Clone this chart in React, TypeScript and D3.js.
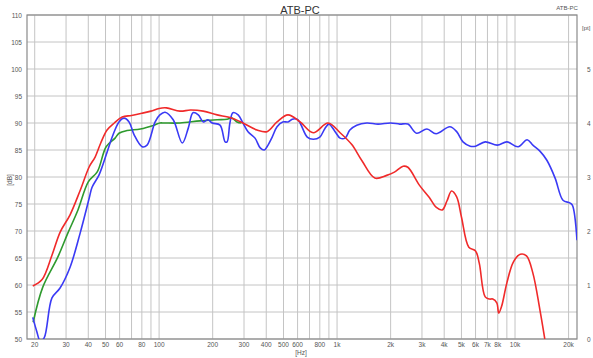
import React from "react";
import * as d3 from "d3";

const redFreq = [19.5, 22, 25, 27.8, 31.6, 36, 40.5, 43.7, 47, 51, 56, 62, 70, 80, 90, 100, 110, 131, 150, 177, 212, 250, 296, 355, 404, 460, 530, 620, 735, 890, 1040, 1210, 1380, 1630, 1900, 2100, 2350, 2500, 2900, 3300, 3600, 3900, 4150, 4400, 4700, 5000, 5500, 6000, 6300, 6800, 7200, 7500, 7900, 8100, 8400, 9000, 9800, 10700, 11600, 12600, 13800, 14700];
const redDb = [59.8, 61, 65.5, 69.8, 73, 77.5, 81.9, 83.7, 86.3, 88.7, 90, 91.1, 91.4, 91.8, 92.2, 92.7, 92.8, 92.2, 92.4, 92.2, 91.5, 91, 90, 88.7, 88.4, 90.2, 91.5, 90.2, 88.2, 90, 88.2, 86, 83, 79.8, 80.3, 80.9, 82, 81.8, 78.5, 76.2, 74.4, 73.9, 75.6, 77.4, 76.3, 72.6, 67, 66.3, 64, 57.8, 57.4, 57.4, 56.7, 54.8, 56, 60.4, 64.3, 65.7, 65.4, 62.2, 55.4, 50];

const blueFreq = [19.5, 20.5, 21.5, 22.6, 25, 27.7, 31.6, 36, 40.5, 42, 46, 51, 54.5, 59.5, 63.5, 67.8, 72.4, 80.3, 85.6, 95, 101, 108, 120, 135, 146, 155, 166, 177, 188, 199, 220, 235, 241, 250, 260, 278, 296, 316, 346, 370, 390, 404, 432, 460, 495, 530, 560, 596, 620, 680, 735, 800, 855, 900, 975, 1040, 1110, 1180, 1290, 1470, 1700, 2000, 2250, 2500, 2800, 3200, 3600, 4300, 4700, 5100, 5600, 6000, 6800, 7950, 9000, 10400, 11700, 12600, 13800, 15100, 16800, 18600, 20300, 21000, 22300];
const blueDb = [54, 51.5, 49.6, 50.2, 57.6, 59.4, 63.3, 69.6, 76.1, 78.1, 80.4, 84.6, 87.4, 90.2, 90.9, 90.2, 87.8, 85.6, 85.9, 90.2, 91.5, 92, 90.6, 86.3, 89.1, 91.9, 91.5, 90.2, 90.6, 90, 89.6, 86.5, 86.5, 90, 91.9, 91.5, 90, 88.4, 87.2, 85.4, 85, 85.6, 87.4, 89.3, 90.2, 90.2, 90.7, 90.7, 90, 87.4, 87, 87.4, 89, 89.8, 88.4, 87.2, 87.2, 88.7, 89.6, 90, 89.8, 90, 89.8, 89.8, 88.1, 88.9, 88, 89.3, 88.4, 86.5, 85.7, 85.7, 86.5, 85.9, 86.5, 85.6, 86.9, 85.9, 84.8, 83.1, 79.8, 75.7, 75.2, 74.8, 68.3];

const greenFreq = [19.6, 22.2, 27, 30.7, 35, 40, 45, 50.4, 56.6, 59.5, 66, 78.5, 93.7, 101, 107, 131, 170, 212, 241, 257, 274, 290];
const greenDb = [53.1, 59.6, 65.2, 69.6, 73.9, 79.1, 81, 85.6, 87.2, 88.1, 88.6, 88.9, 89.6, 90, 90, 90, 90.4, 90.6, 90.7, 90.9, 90.2, 90];

const yTicks = [50, 55, 60, 65, 70, 75, 80, 85, 90, 95, 100, 105, 110];
const rightTicks = [0, 1, 2, 3, 4, 5];
const xGrid = [20, 30, 40, 50, 60, 70, 80, 90, 100, 200, 300, 400, 500, 600, 700, 800, 900, 1000, 2000, 3000, 4000, 5000, 6000, 7000, 8000, 9000, 10000, 20000];
const xLabelVals = [20, 30, 40, 50, 60, 80, 100, 200, 300, 400, 500, 600, 800, 1000, 2000, 3000, 4000, 5000, 6000, 7000, 8000, 10000, 20000];
const xLabelText = ["20", "30", "40", "50", "60", "80", "100", "200", "300", "400", "500", "600", "800", "1k", "2k", "3k", "4k", "5k", "6k", "7k", "8k", "10k", "20k"];

const L = 27, R = 577, T = 15, B = 339;

export default function App() {
  const x = d3.scaleLog().domain([18.1, 22300]).range([L, R]);
  const y = d3.scaleLinear().domain([50, 110]).range([B, T]);
  const yR = d3.scaleLinear().domain([0, 6]).range([B, T]);

  const mk = (fs: number[], ds: number[]) =>
    d3
      .line<number>()
      .x((_, i) => x(fs[i]))
      .y((d) => y(d))
      .curve(d3.curveCatmullRom.alpha(0.5))(ds) || "";

  const font = "Liberation Sans, Arial, sans-serif";

  return (
    <svg width={593} height={358} style={{ position: "absolute", left: 0, top: 0, background: "#fff" }} fontFamily={font}>
      <defs>
        <clipPath id="plot">
          <rect x={L} y={T} width={R - L} height={B - T} />
        </clipPath>
      </defs>
      <rect x={0} y={0} width={593} height={358} fill="#fff" />
      {yTicks.map((t) => (
        <line key={"h" + t} x1={L} x2={R} y1={y(t)} y2={y(t)} stroke="#c4c4c4" strokeWidth={1} />
      ))}
      {xGrid.map((f) => (
        <line key={"v" + f} x1={x(f)} x2={x(f)} y1={T} y2={B} stroke="#c4c4c4" strokeWidth={1} />
      ))}
      <rect x={L} y={T} width={R - L} height={B - T} fill="none" stroke="#8a8a8a" strokeWidth={1.2} />
      <g clipPath="url(#plot)" fill="none" strokeWidth={1.6} strokeLinejoin="round">
        <path d={mk(greenFreq, greenDb)} stroke="#2e9a2e" />
        <path d={mk(blueFreq, blueDb)} stroke="#3a3af5" />
        <path d={mk(redFreq, redDb)} stroke="#f02a2a" />
      </g>
      {yTicks.map((t) => (
        <text key={"yl" + t} x={22} y={y(t) + 2.5} fontSize={6.5} fill="#555" textAnchor="end">
          {t}
        </text>
      ))}
      {rightTicks.map((t) => (
        <text key={"rl" + t} x={587} y={yR(t) + 2.5} fontSize={6.5} fill="#555">
          {t}
        </text>
      ))}
      <text x={582} y={30} fontSize={6} fill="#555">[pt]</text>
      {xLabelVals.map((f, i) => (
        <text key={"xl" + f} x={x(f)} y={347} fontSize={6.5} fill="#555" textAnchor="middle">
          {xLabelText[i]}
        </text>
      ))}
      <text x={301} y={355} fontSize={6.5} fill="#555" textAnchor="middle">[Hz]</text>
      <text transform="translate(12,180) rotate(-90)" fontSize={6.5} fill="#555" textAnchor="middle">[dB]</text>
      <text x={300} y={14} fontSize={11} fill="#333" textAnchor="middle">ATB-PC</text>
      <text x={567} y={10} fontSize={6} fill="#555" textAnchor="middle">ATB-PC</text>
    </svg>
  );
}
